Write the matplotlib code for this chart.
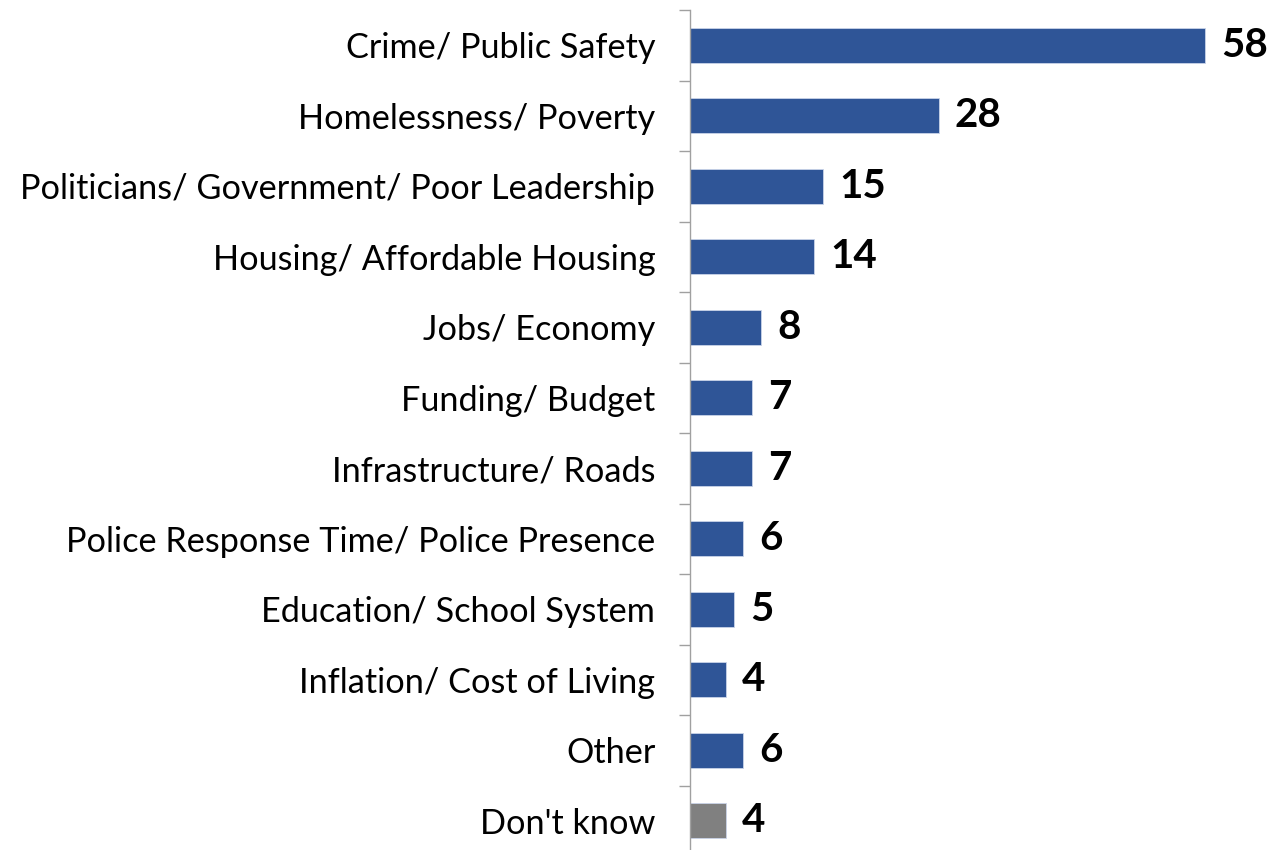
import matplotlib
matplotlib.use("Agg")
import matplotlib.pyplot as plt
import numpy as np

categories = ["Crime/ Public Safety", "Homelessness/ Poverty",
              "Politicians/ Government/ Poor Leadership", "Housing/ Affordable Housing",
              "Jobs/ Economy", "Funding/ Budget", "Infrastructure/ Roads",
              "Police Response Time/ Police Presence", "Education/ School System",
              "Inflation/ Cost of Living", "Other", "Don't know"]
values = [58, 28, 15, 14, 8, 7, 7, 6, 5, 4, 6, 4]
bar_colors = ["#2F5597"] * 11 + ["#808080"]

plt.rcParams['font.family'] = ['Lato', 'DejaVu Sans']

fig = plt.figure(figsize=(12.69, 8.5), dpi=100)
ax = fig.add_axes([690 / 1269, -6 / 850, 579 / 1269, 846 / 850])

y = np.arange(len(categories))
ax.barh(y, values, height=0.5, color=bar_colors, edgecolor="#C9D3E8", linewidth=0.6)

# value labels right of each bar
for yi, v in zip(y, values):
    ax.text(v + 1.8, yi, str(v), va='center', ha='left', fontsize=29, fontweight='bold')

ax.set_xlim(0, 579 / 8.88)
ax.set_ylim(len(categories) - 0.5, -0.5)
ax.set_yticks(y)
ax.set_yticklabels(categories, fontsize=24.7)
ax.tick_params(axis='y', which='major', length=0, pad=25)
ax.set_yticks(np.arange(-0.5, len(categories), 1), minor=True)
ax.tick_params(axis='y', which='minor', length=8, color='#A0A0A0', width=1)
ax.set_xticks([])
for s in ['top', 'right', 'bottom']:
    ax.spines[s].set_visible(False)
ax.spines['left'].set_color('#A0A0A0')
ax.spines['left'].set_linewidth(1)

fig.savefig("out.png", dpi=100)
